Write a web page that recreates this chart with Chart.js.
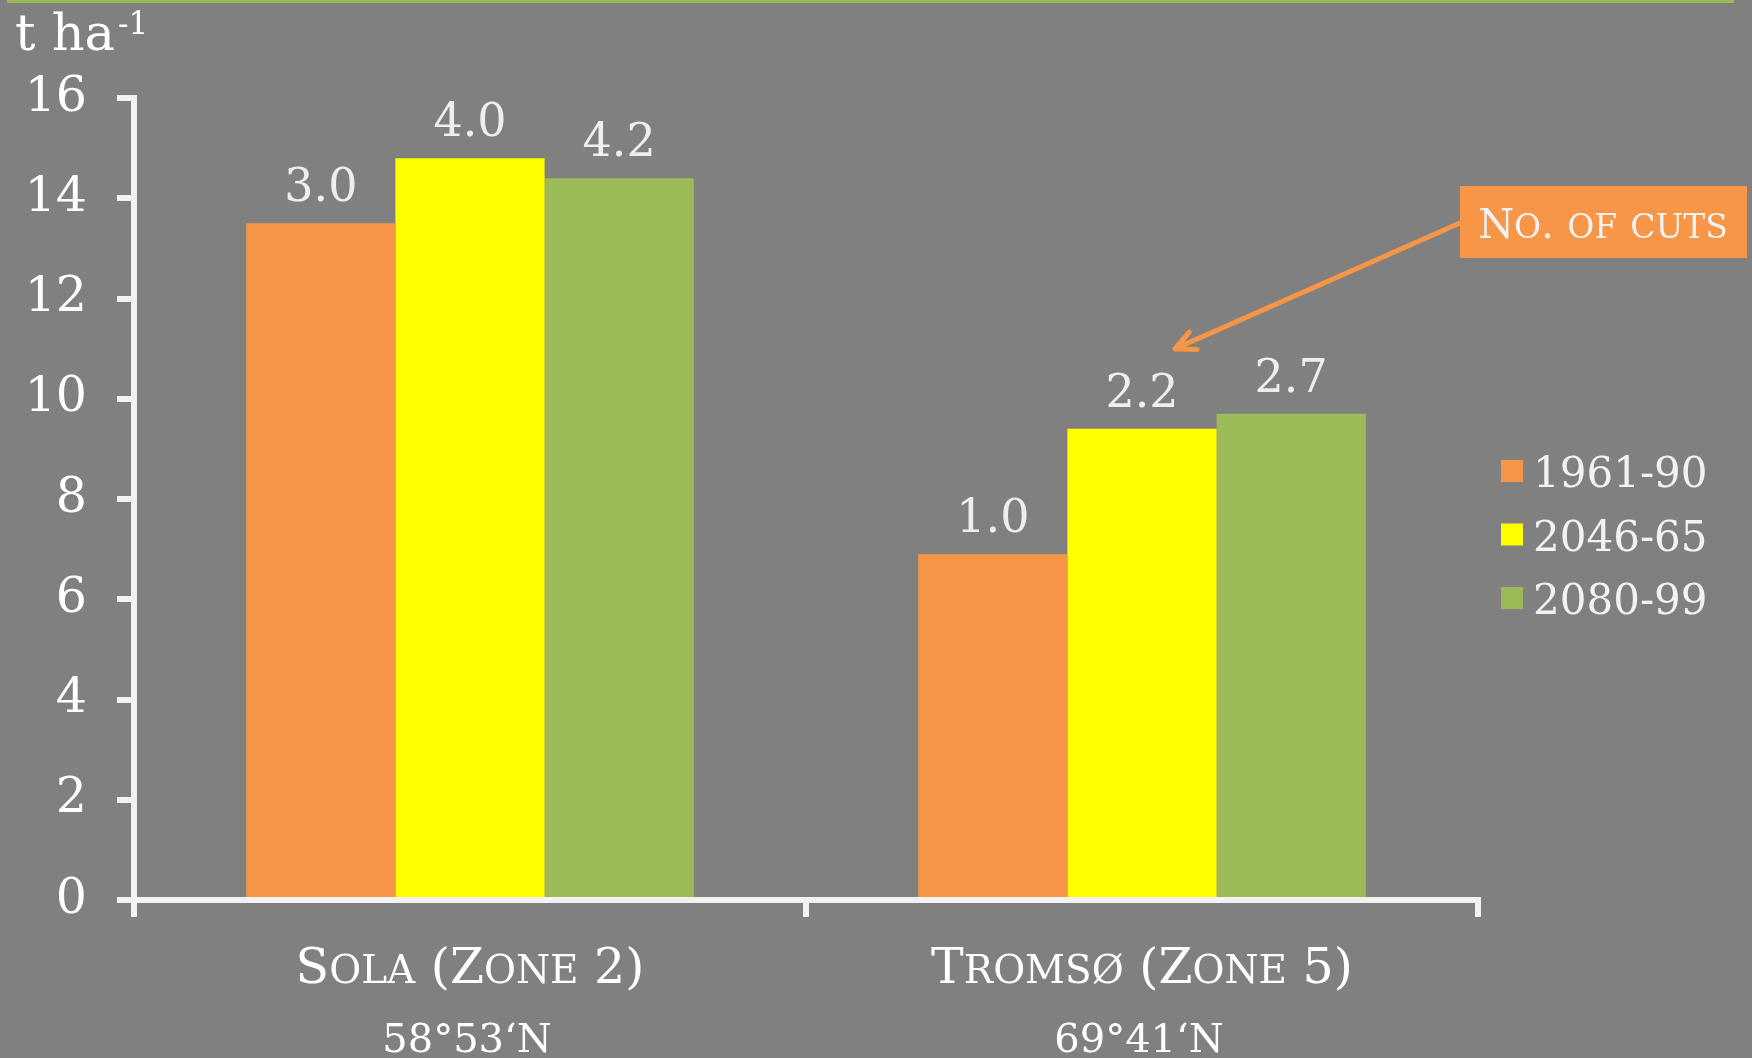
<!DOCTYPE html>
<html>
<head>
<meta charset="utf-8">
<script src="https://cdn.jsdelivr.net/npm/chart.js@4.4.1/dist/chart.umd.min.js"></script>
<style>
  html, body { margin: 0; padding: 0; background: #808080; overflow: hidden; }
  canvas { display: block; }
</style>
</head>
<body>
<canvas id="chart" width="1752" height="1058"></canvas>
<script>
// Data
const siteNames = ['Sola (Zone 2)', 'Tromsø (Zone 5)'];
const siteLatitudes = ['58°53‘N', '69°41‘N'];
const periods = ['1961-90', '2046-65', '2080-99'];
const yield1961 = [13.5, 6.9];
const yield2046 = [14.8, 9.4];
const yield2080 = [14.4, 9.7];
const cuts1961 = ['3.0', '1.0'];
const cuts2046 = ['4.0', '2.2'];
const cuts2080 = ['4.2', '2.7'];
const yMin = 0, yMax = 16, yStep = 2;

const FONT = "'DejaVu Serif', 'Liberation Serif', serif";
const AXIS = '#F2F2F2';
const COLORS = ['#F79646', '#FFFF00', '#9BBB59'];

// draws text in small caps (lowercase letters become smaller capitals)
function smallCaps(ctx, text, x, y, size, align) {
  const runs = [];
  for (const ch of text) {
    const small = ch !== ch.toUpperCase();
    const last = runs[runs.length - 1];
    if (last && last.small === small) last.t += small ? ch.toUpperCase() : ch;
    else runs.push({ small, t: small ? ch.toUpperCase() : ch });
  }
  let total = 0;
  runs.forEach(r => {
    ctx.font = `${r.small ? Math.round(size * 0.8) : size}px ${FONT}`;
    r.w = ctx.measureText(r.t).width;
    total += r.w;
  });
  let cx = align === 'center' ? x - total / 2 : x;
  ctx.textAlign = 'left';
  runs.forEach(r => {
    ctx.font = `${r.small ? Math.round(size * 0.8) : size}px ${FONT}`;
    ctx.fillText(r.t, cx, y);
    cx += r.w;
  });
}

const decorations = {
  id: 'decorations',
  beforeDraw(chart) {
    const ctx = chart.ctx;
    ctx.save();
    ctx.fillStyle = '#808080';
    ctx.fillRect(0, 0, chart.width, chart.height);
    ctx.fillStyle = '#9BBB59';
    ctx.fillRect(7, 0, 1727, 3);
    ctx.restore();
  },
  afterDatasetsDraw(chart) {
    const ctx = chart.ctx;
    ctx.save();
    // cut counts above bars
    ctx.fillStyle = '#EEEEEE';
    ctx.font = `46px ${FONT}`;
    ctx.textAlign = 'center';
    ctx.textBaseline = 'alphabetic';
    chart.data.datasets.forEach((ds, i) => {
      chart.getDatasetMeta(i).data.forEach((bar, j) => {
        ctx.fillText(ds.cuts[j], bar.x, bar.y - 22);
      });
    });
    ctx.restore();
  },
  afterDraw(chart) {
    const ctx = chart.ctx;
    const x = chart.scales.x;
    ctx.save();
    ctx.textBaseline = 'alphabetic';

    // unit label
    ctx.fillStyle = '#FFFFFF';
    ctx.font = `51px ${FONT}`;
    ctx.textAlign = 'left';
    ctx.fillText('t ha', 15, 50);
    const w = ctx.measureText('t ha').width;
    ctx.font = `31px ${FONT}`;
    ctx.fillText('-1', 15 + w + 3, 34);

    // category labels
    ctx.fillStyle = '#FFFFFF';
    siteNames.forEach((name, i) => {
      const px = x.getPixelForTick(i);
      smallCaps(ctx, name, px, 983, 49, 'center');
      ctx.font = `40px ${FONT}`;
      ctx.textAlign = 'center';
      ctx.fillText(siteLatitudes[i], px - 3, 1052);
    });

    // legend
    chart.data.datasets.forEach((ds, i) => {
      const cy = 471 + i * 63.5;
      ctx.fillStyle = ds.backgroundColor;
      ctx.fillRect(1501, cy - 11, 22, 22);
      ctx.fillStyle = AXIS;
      ctx.font = `42px ${FONT}`;
      ctx.textAlign = 'left';
      ctx.fillText(ds.label, 1533, cy + 16);
    });

    // callout: box + arrow pointing at Tromsø 2046-65 bar label
    const bar = chart.getDatasetMeta(1).data[1];
    const tip = { x: bar.x + 33, y: bar.y - 80 };
    const start = { x: 1460, y: 223 };
    ctx.strokeStyle = '#F79646';
    ctx.lineWidth = 5;
    ctx.lineCap = 'round';
    ctx.beginPath();
    ctx.moveTo(start.x, start.y);
    ctx.lineTo(tip.x, tip.y);
    const ang = Math.atan2(start.y - tip.y, start.x - tip.x);
    [-0.45, 0.45].forEach(d => {
      ctx.moveTo(tip.x, tip.y);
      ctx.lineTo(tip.x + 22 * Math.cos(ang + d), tip.y + 22 * Math.sin(ang + d));
    });
    ctx.stroke();
    ctx.fillStyle = '#F79646';
    ctx.fillRect(1460, 186, 287, 72);
    ctx.fillStyle = AXIS;
    smallCaps(ctx, 'No. of cuts', 1603, 238, 41, 'center');
    ctx.restore();
  }
};

new Chart(document.getElementById('chart'), {
  type: 'bar',
  data: {
    labels: siteNames,
    datasets: [
      { label: periods[0], data: yield1961, cuts: cuts1961, backgroundColor: COLORS[0] },
      { label: periods[1], data: yield2046, cuts: cuts2046, backgroundColor: COLORS[1] },
      { label: periods[2], data: yield2080, cuts: cuts2080, backgroundColor: COLORS[2] },
    ]
  },
  options: {
    responsive: false,
    devicePixelRatio: 1,
    animation: false,
    layout: { padding: { top: 98, right: 274, bottom: 0, left: 0 } },
    datasets: { bar: { barPercentage: 1, categoryPercentage: 0.666 } },
    plugins: { legend: { display: false }, tooltip: { enabled: false } },
    scales: {
      x: {
        grid: { drawOnChartArea: false, drawTicks: true, tickLength: 17, lineWidth: 6, color: AXIS, offset: true },
        border: { width: 6, color: AXIS },
        ticks: { display: false },
        afterFit: (s) => { s.height = 158; }
      },
      y: {
        min: yMin,
        max: yMax,
        grid: { drawOnChartArea: false, drawTicks: true, tickLength: 17, lineWidth: 6, color: AXIS },
        border: { width: 6, color: AXIS },
        ticks: { stepSize: yStep, color: '#FFFFFF', padding: 30, font: { family: FONT, size: 49 } },
        afterFit: (s) => { s.width = 134; }
      }
    }
  },
  plugins: [decorations]
});
</script>
</body>
</html>
